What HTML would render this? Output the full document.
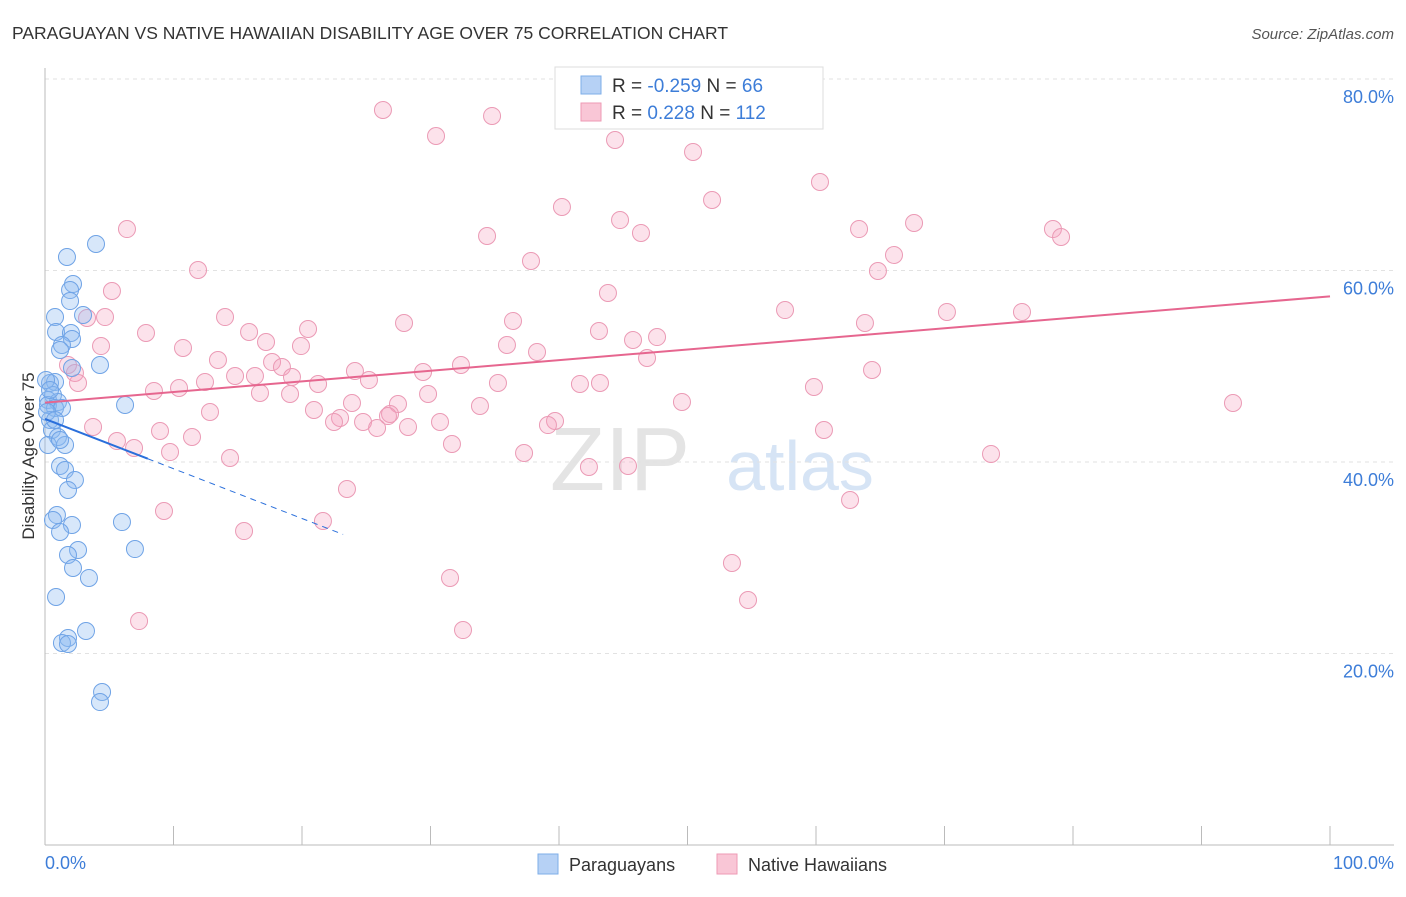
<!DOCTYPE html>
<html><head><meta charset="utf-8"><style>
body{margin:0;background:#fff;font-family:"Liberation Sans",sans-serif}
svg text{font-family:"Liberation Sans",sans-serif}
</style></head><body>
<svg id="chart" width="1406" height="892">
<text x="12" y="39" font-size="17.5" fill="#333">PARAGUAYAN VS NATIVE HAWAIIAN DISABILITY AGE OVER 75 CORRELATION CHART</text>
<text x="1394" y="39" font-size="15" fill="#555" text-anchor="end" font-style="italic">Source: ZipAtlas.com</text>
<text x="620" y="490" font-size="90" fill="#e4e4e4" font-family="Liberation Serif" text-anchor="middle">ZIP</text>
<text x="800" y="490" font-size="70" fill="#d6e4f5" text-anchor="middle">atlas</text>
<g id="grid"></g><g id="pts"></g><g id="lines"></g>
<text transform="translate(34,456) rotate(-90)" font-size="17" fill="#333" text-anchor="middle">Disability Age Over 75</text>
<text x="45" y="869" font-size="18" fill="#3d7dd8">0.0%</text>
<text x="1394" y="869" font-size="18" fill="#3d7dd8" text-anchor="end">100.0%</text>
<g>
<rect x="555" y="67" width="268" height="62" fill="#fff" stroke="#ddd"/>
<rect x="581" y="76" width="20" height="18" fill="#b6d1f5" stroke="#7eaee8"/>
<rect x="581" y="103" width="20" height="18" fill="#f9c6d6" stroke="#ee9ab4"/>
<text x="612" y="92" font-size="19" fill="#333">R = <tspan fill="#3d7dd8">-0.259</tspan>   N = <tspan fill="#3d7dd8">66</tspan></text>
<text x="612" y="119" font-size="19" fill="#333">R =   <tspan fill="#3d7dd8">0.228</tspan>   N = <tspan fill="#3d7dd8">112</tspan></text>
</g>
<g>
<rect x="538" y="854" width="20" height="20" fill="#b6d1f5" stroke="#7eaee8"/>
<text x="569" y="871" font-size="18" fill="#333">Paraguayans</text>
<rect x="717" y="854" width="20" height="20" fill="#f9c6d6" stroke="#ee9ab4"/>
<text x="748" y="871" font-size="18" fill="#333">Native Hawaiians</text>
</g>
</svg>
<script>
const yTicks=[20,40,60,80];
const xTicks=[0,10,20,30,40,50,60,70,80,90,100];
const bluePx=[[55,317],[67,257],[96,244],[73,284],[70,290],[70,301],[83,315],[56,332],[71,333],[72,339],[62,345],[60,350],[100,365],[72,368],[50,383],[55,382],[53,395],[48,400],[58,402],[48,405],[55,408],[62,408],[125,405],[50,420],[52,430],[58,437],[65,445],[48,445],[60,466],[65,470],[75,480],[68,490],[57,515],[53,520],[72,525],[60,532],[122,522],[78,550],[68,555],[135,549],[73,568],[89,578],[56,597],[86,631],[68,638],[62,643],[68,644],[102,692],[100,702],[46,380],[50,390],[47,412],[55,420],[60,440]];
const pinkPx=[[383,110],[492,116],[436,136],[615,140],[693,152],[820,182],[712,200],[562,207],[620,220],[914,223],[127,229],[641,233],[859,229],[487,236],[1053,229],[1061,237],[894,255],[531,261],[198,270],[878,271],[112,291],[608,293],[785,310],[947,312],[1022,312],[225,317],[105,317],[87,318],[404,323],[513,321],[865,323],[249,332],[599,331],[308,329],[146,333],[657,337],[633,340],[101,346],[266,342],[301,346],[183,348],[507,345],[537,352],[218,360],[272,362],[647,358],[68,365],[461,365],[282,367],[423,372],[355,371],[235,376],[255,376],[292,377],[872,370],[75,373],[369,380],[78,383],[205,382],[318,384],[498,383],[580,384],[600,383],[154,391],[179,388],[260,393],[290,394],[814,387],[428,394],[682,402],[352,403],[398,404],[1233,403],[480,406],[210,412],[314,410],[340,418],[390,414],[334,422],[363,422],[388,416],[93,427],[408,427],[440,422],[377,428],[555,421],[548,425],[824,430],[160,431],[192,437],[117,441],[134,448],[452,444],[170,452],[524,453],[991,454],[230,458],[589,467],[628,466],[347,489],[850,500],[164,511],[323,521],[244,531],[732,563],[450,578],[748,600],[139,621],[463,630]];
// data values (x %, y %) derived from the picture
const blueX=bluePx.map(p=>+((p[0]-45)/12.85).toFixed(2));
const blueY=bluePx.map(p=>+(80-(p[1]-79)/9.575).toFixed(2));
const pinkX=pinkPx.map(p=>+((p[0]-45)/12.85).toFixed(2));
const pinkY=pinkPx.map(p=>+(80-(p[1]-79)/9.575).toFixed(2));
const blueTrend=[44.5,-52];   // intercept, slope per 100%
const pinkTrend=[46.2,11.1];
const X=v=>45+v*12.85, Y=v=>79+(80-v)*9.575;
const NS='http://www.w3.org/2000/svg';
function mk(t,a,p){const e=document.createElementNS(NS,t);for(const k in a)e.setAttribute(k,a[k]);p.appendChild(e);return e;}
const g=document.getElementById('grid');
yTicks.forEach(v=>{
 const l=mk('line',{x1:45,x2:1394,y1:Y(v),y2:Y(v),stroke:'#e2e2e2','stroke-dasharray':'4,4'},g);
 
 
 const t=mk('text',{x:1394,y:Y(v)+24,'font-size':18,fill:'#3d7dd8','text-anchor':'end'},g);t.textContent=v.toFixed(1)+'%';
 
 
});
const ax=mk('line',{x1:45,x2:45,y1:68,y2:845,stroke:'#bbb'},g);


const bx=mk('line',{x1:45,x2:1394,y1:845,y2:845,stroke:'#bbb'},g);


xTicks.forEach(v=>{const t=mk('line',{x1:X(v),x2:X(v),y1:826,y2:845,stroke:'#bbb'},g);
 
 });
const P=document.getElementById('pts');
pinkX.forEach((x,i)=>{const c=mk('circle',{cx:X(x),cy:Y(pinkY[i]),r:8.5,fill:'rgba(244,160,190,0.3)',stroke:'#eb9ab5','stroke-width':1},P);
 
 });
blueX.forEach((x,i)=>{const c=mk('circle',{cx:X(x),cy:Y(blueY[i]),r:8.5,fill:'rgba(140,185,240,0.35)',stroke:'#6fa3e6','stroke-width':1},P);
 
 });
const L=document.getElementById('lines');
const by=x=>blueTrend[0]+blueTrend[1]*x/100, py=x=>pinkTrend[0]+pinkTrend[1]*x/100;
const b1=mk('line',{x1:X(0),y1:Y(by(0)),x2:X(8),y2:Y(by(8)),stroke:'#2a6fdb','stroke-width':2},L);


const b2=mk('line',{x1:X(8),y1:Y(by(8)),x2:X(23.2),y2:Y(by(23.2)),stroke:'#2a6fdb','stroke-width':1,'stroke-dasharray':'6,5'},L);


const p1=mk('line',{x1:X(0),y1:Y(py(0)),x2:X(100),y2:Y(py(100)),stroke:'#e6668f','stroke-width':2},L);


</script>
</body></html>
